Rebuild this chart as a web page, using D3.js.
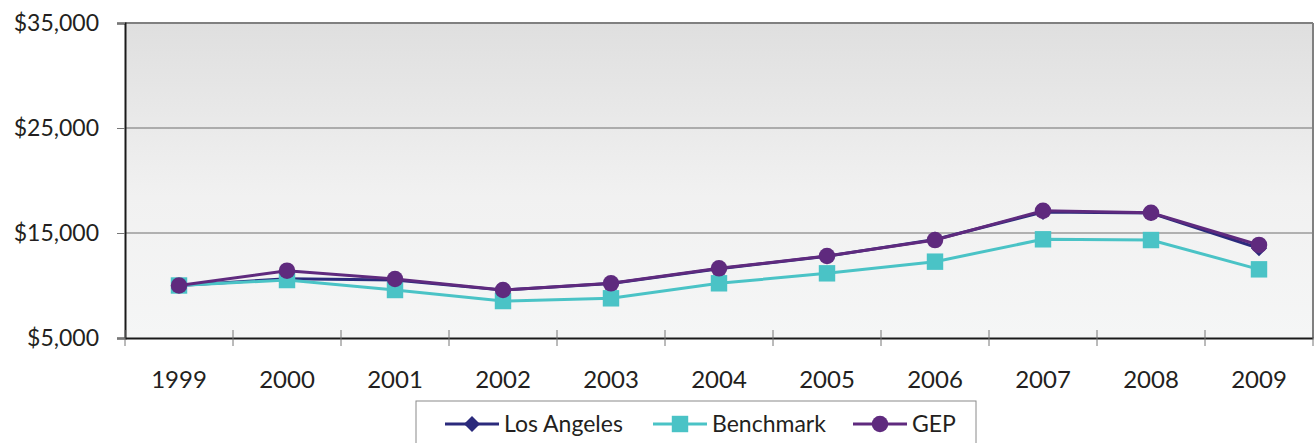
<!DOCTYPE html>
<html lang="en">
<head>
    <meta charset="UTF-8">
    <title>Los Angeles vs Benchmark vs GEP</title>
    <style>
        html, body { margin: 0; background: #fff; }
        svg { display: block; }
        text { font-family: "Lato", "Open Sans", sans-serif; fill: #231f20; }
    </style>
</head>
<body>
    <div class="chart"></div>
    <script src="https://d3js.org/d3.v7.min.js"></script>
    <script>
        var years = ["1999", "2000", "2001", "2002", "2003", "2004", "2005", "2006", "2007", "2008", "2009"];
        var losAngeles = [10000, 10650, 10520, 9560, 10180, 11600, 12790, 14380, 17000, 16900, 13550];
        var benchmark = [10000, 10520, 9570, 8520, 8780, 10210, 11160, 12270, 14400, 14330, 11540];
        var gep = [10000, 11410, 10620, 9570, 10210, 11640, 12810, 14330, 17120, 16930, 13860];
        var yTicks = [5000, 15000, 25000, 35000];

        var width = 1314, height = 443;
        var plotLeft = 125, plotRight = 1313, plotTop = 23, plotBottom = 338;

        var svg = d3.select('.chart').append('svg')
            .attr('width', width)
            .attr('height', height);

        var defs = svg.append('defs');
        var grad = defs.append('linearGradient')
            .attr('id', 'bg').attr('x1', 0).attr('y1', 0).attr('x2', 0).attr('y2', 1);
        grad.append('stop').attr('offset', '0%').attr('stop-color', '#dfdfdf');
        grad.append('stop').attr('offset', '55%').attr('stop-color', '#f1f1f1');
        grad.append('stop').attr('offset', '100%').attr('stop-color', '#f5f6f6');

        var x = d3.scaleBand().domain(years).range([plotLeft, plotRight]).padding(0);
        var y = d3.scaleLinear().domain([5000, 35000]).range([plotBottom, plotTop]);
        var cx = d => x(d) + x.bandwidth() / 2;

        // plot background
        svg.append('rect')
            .attr('x', plotLeft).attr('y', plotTop)
            .attr('width', plotRight - plotLeft).attr('height', plotBottom - plotTop)
            .attr('fill', 'url(#bg)');

        // gridlines
        svg.append('g').selectAll('line')
            .data(yTicks.slice(1, 3))
            .join('line')
            .attr('x1', plotLeft).attr('x2', plotRight)
            .attr('y1', d => y(d)).attr('y2', d => y(d))
            .attr('stroke', '#6e6e6e').attr('stroke-width', 1);

        // top and right border
        svg.append('line').attr('x1', plotLeft).attr('x2', plotRight).attr('y1', plotTop).attr('y2', plotTop)
            .attr('stroke', '#808080').attr('stroke-width', 2);
        svg.append('line').attr('x1', plotRight).attr('x2', plotRight).attr('y1', plotTop).attr('y2', plotBottom)
            .attr('stroke', '#808080').attr('stroke-width', 2);

        // y axis
        var yAxis = d3.axisLeft(y).tickValues(yTicks).tickSize(8).tickPadding(18)
            .tickFormat(d => '$' + d3.format(',')(d));
        var gy = svg.append('g').attr('transform', `translate(${plotLeft},0)`).call(yAxis);
        gy.select('.domain').attr('stroke', '#1a1a1a').attr('stroke-width', 2);
        gy.selectAll('.tick line').attr('stroke', '#777');
        gy.selectAll('.tick text').attr('font-size', 23).attr('fill', '#231f20')
            .attr('font-family', '"Lato", sans-serif');

        // x axis
        var xAxis = d3.axisBottom(x).tickSize(0).tickPadding(33);
        var gx = svg.append('g').attr('transform', `translate(0,${plotBottom})`).call(xAxis);
        gx.select('.domain').attr('stroke', '#1a1a1a').attr('stroke-width', 2);
        gx.selectAll('.tick text').attr('font-size', 24).attr('fill', '#231f20')
            .attr('font-family', '"Lato", sans-serif');

        // x tick marks between categories
        var bounds = years.map(d => x(d)).concat([plotRight]);
        svg.append('g').selectAll('line')
            .data(bounds)
            .join('line')
            .attr('x1', d => d).attr('x2', d => d)
            .attr('y1', plotBottom - 8).attr('y2', plotBottom + 8)
            .attr('stroke', '#777').attr('stroke-width', 1);

        var series = [
            { name: 'Los Angeles', values: losAngeles, color: '#2b2a7c', symbol: d3.symbolDiamond2, size: 165 },
            { name: 'Benchmark', values: benchmark, color: '#4ac3c6', symbol: d3.symbolSquare, size: 270 },
            { name: 'GEP', values: gep, color: '#5f2a7e', symbol: d3.symbolCircle, size: 215 }
        ];

        var line = d3.line().x((d, i) => cx(years[i])).y(d => y(d));

        series.forEach(function (s) {
            var g = svg.append('g');
            g.append('path')
                .attr('d', line(s.values))
                .attr('fill', 'none')
                .attr('stroke', s.color)
                .attr('stroke-width', 3);
            g.selectAll('path.mark')
                .data(s.values)
                .join('path')
                .attr('class', 'mark')
                .attr('d', d3.symbol().type(s.symbol).size(s.size))
                .attr('transform', (d, i) => `translate(${cx(years[i])},${y(d)})`)
                .attr('fill', s.color);
        });

        // legend
        var legend = svg.append('g');
        legend.append('rect')
            .attr('x', 416).attr('y', 401)
            .attr('width', 560).attr('height', 60)
            .attr('fill', '#fff')
            .attr('stroke', '#8a8a8a').attr('stroke-width', 1);

        var legendX = [445, 653, 853];
        series.forEach(function (s, i) {
            var lg = legend.append('g').attr('transform', `translate(${legendX[i]},424)`);
            lg.append('line').attr('x1', 0).attr('x2', 54).attr('y1', 0).attr('y2', 0)
                .attr('stroke', s.color).attr('stroke-width', 3);
            lg.append('path')
                .attr('d', d3.symbol().type(s.symbol).size(s.size))
                .attr('transform', 'translate(27,0)')
                .attr('fill', s.color);
            lg.append('text')
                .attr('x', 59).attr('y', 0).attr('dy', '0.35em')
                .attr('font-size', 23)
                .text(s.name);
        });
    </script>
</body>
</html>
